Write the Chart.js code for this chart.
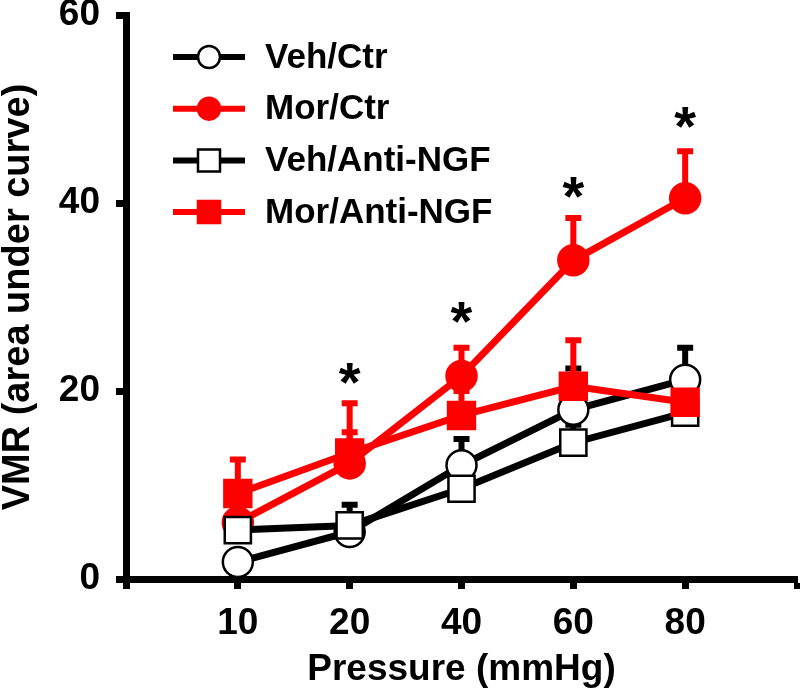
<!DOCTYPE html>
<html>
<head>
<meta charset="utf-8">
<script src="https://cdn.jsdelivr.net/npm/chart.js@4.4.0/dist/chart.umd.min.js"></script>
<style>
  html, body { margin: 0; padding: 0; background: #fff; }
  #wrap { width: 800px; height: 692px; }
</style>
</head>
<body>
<div id="wrap"><canvas id="vmr" width="800" height="692"></canvas></div>
<script>
// x categories (evenly spaced, so drawn at positions 1..5 on a 0..6 axis)
const pressures = ['10', '20', '40', '60', '80'];
const yTicks = [0, 20, 40, 60];

// means and upper error (SEM) per group
const vehCtr = [1.8, 5.0, 12.1, 18.0, 21.2];
const vehCtrErr = [1.2, 1.5, 2.8, 4.4, 3.4];
const morCtr = [6.0, 12.3, 21.6, 33.9, 40.5];
const morCtrErr = [1.2, 6.4, 3.0, 4.5, 5.0];
const vehAnti = [5.2, 5.7, 9.6, 14.5, 17.7];
const vehAntiErr = [1.0, 2.2, 1.5, 1.9, 1.0];
const morAnti = [9.1, 13.4, 17.4, 20.5, 18.8];
const morAntiErr = [3.6, 2.2, 2.6, 4.9, 1.0];

// significance stars (y value of star centre), null = none
const stars = [null, 21.9, 28.3, 41.7, 49.1];

const FONT = "'Liberation Sans', Arial, sans-serif";
const RED = '#ff0000';

const toPoints = (arr) => arr.map((v, i) => ({ x: i + 1, y: v }));

const makeSet = (label, values, errors, color, fill, style, radius, order) => ({
  label,
  data: toPoints(values),
  errors,
  borderColor: color,
  borderWidth: 7,
  pointStyle: style,
  pointRadius: radius,
  pointBackgroundColor: fill,
  pointBorderColor: color,
  pointBorderWidth: 2.5,
  order,
});

// upward error bars, drawn under the markers
const errorBars = {
  id: 'errorBars',
  beforeDatasetsDraw(chart) {
    const { ctx, scales: { x, y } } = chart;
    chart.data.datasets.forEach((ds) => {
      ctx.save();
      ctx.strokeStyle = ds.borderColor;
      ctx.lineWidth = 6;
      ds.data.forEach((p, i) => {
        const px = x.getPixelForValue(p.x);
        const y0 = y.getPixelForValue(p.y);
        const y1 = y.getPixelForValue(p.y + ds.errors[i]);
        ctx.beginPath();
        ctx.moveTo(px, y0);
        ctx.lineTo(px, y1);
        ctx.moveTo(px - 8, y1);
        ctx.lineTo(px + 8, y1);
        ctx.stroke();
      });
      ctx.restore();
    });
  }
};

// asterisks above the Mor/Ctr points
const starMarks = {
  id: 'starMarks',
  afterDatasetsDraw(chart) {
    const { ctx, scales: { x, y } } = chart;
    ctx.save();
    ctx.fillStyle = '#000';
    ctx.font = 'bold 56px ' + FONT;
    ctx.textAlign = 'center';
    ctx.textBaseline = 'alphabetic';
    const m = ctx.measureText('*');
    const mid = (m.actualBoundingBoxAscent - m.actualBoundingBoxDescent) / 2;
    stars.forEach((v, i) => {
      if (v == null) return;
      ctx.fillText('*', x.getPixelForValue(i + 1), y.getPixelForValue(v) + mid);
    });
    ctx.restore();
  }
};

// legend box in the upper left of the plot
const legendBox = {
  id: 'legendBox',
  afterDraw(chart) {
    const { ctx } = chart;
    ctx.save();
    chart.data.datasets.forEach((ds, i) => {
      const cy = 57 + i * 51.7;
      ctx.strokeStyle = ds.borderColor;
      ctx.lineWidth = 6;
      ctx.beginPath();
      ctx.moveTo(173, cy);
      ctx.lineTo(245, cy);
      ctx.stroke();

      ctx.fillStyle = ds.pointBackgroundColor;
      ctx.lineWidth = 2.5;
      ctx.beginPath();
      if (ds.pointStyle === 'circle') {
        ctx.arc(209, cy, 11, 0, Math.PI * 2);
      } else {
        ctx.rect(209 - 11, cy - 11, 22, 22);
      }
      ctx.fill();
      ctx.stroke();

      ctx.fillStyle = '#000';
      ctx.font = 'bold 35px ' + FONT;
      ctx.textAlign = 'left';
      ctx.textBaseline = 'middle';
      ctx.fillText(ds.label, 265, cy + 1);
    });
    ctx.restore();
  }
};

new Chart(document.getElementById('vmr'), {
  type: 'line',
  data: {
    datasets: [
      makeSet('Veh/Ctr', vehCtr, vehCtrErr, '#000', '#fff', 'circle', 15, 4),
      makeSet('Mor/Ctr', morCtr, morCtrErr, RED, RED, 'circle', 15, 3),
      makeSet('Veh/Anti-NGF', vehAnti, vehAntiErr, '#000', '#fff', 'rect', 18.5, 2),
      makeSet('Mor/Anti-NGF', morAnti, morAntiErr, RED, RED, 'rect', 19, 1),
    ]
  },
  options: {
    responsive: false,
    animation: false,
    layout: { autoPadding: false, padding: { top: 15, right: 3, left: 0, bottom: 0 } },
    plugins: { legend: { display: false }, tooltip: { enabled: false } },
    scales: {
      x: {
        type: 'linear',
        min: 0,
        max: 6,
        afterFit: (s) => { s.height = 113; s.paddingLeft = 0; s.paddingRight = 0; },
        afterBuildTicks: (s) => { s.ticks = [0, 1, 2, 3, 4, 5, 6].map((v) => ({ value: v })); },
        border: { display: true, color: '#000', width: 7 },
        grid: { drawOnChartArea: false, drawTicks: true, tickLength: 10, tickWidth: 7, tickColor: '#000' },
        ticks: {
          autoSkip: false,
          maxRotation: 0,
          padding: 13,
          color: '#000',
          font: { family: FONT, size: 37, weight: 'bold' },
          callback: (v) => pressures[v - 1] || '',
        },
        title: {
          display: true,
          text: 'Pressure (mmHg)',
          color: '#000',
          padding: 0,
          font: { family: FONT, size: 37, weight: 'bold' },
        },
      },
      y: {
        min: 0,
        max: 60,
        afterFit: (s) => { s.width = 126; s.paddingTop = 0; s.paddingBottom = 0; },
        afterBuildTicks: (s) => { s.ticks = yTicks.map((v) => ({ value: v })); },
        border: { display: true, color: '#000', width: 7 },
        grid: { drawOnChartArea: false, drawTicks: true, tickLength: 10, tickWidth: 7, tickColor: '#000' },
        ticks: {
          padding: 16,
          color: '#000',
          font: { family: FONT, size: 37, weight: 'bold', lineHeight: 0.8 },
        },
        title: {
          display: true,
          text: 'VMR (area under curve)',
          color: '#000',
          padding: 0,
          font: { family: FONT, size: 38, weight: 'bold', lineHeight: 1.0 },
        },
      },
    },
  },
  plugins: [errorBars, starMarks, legendBox],
});
</script>
</body>
</html>
